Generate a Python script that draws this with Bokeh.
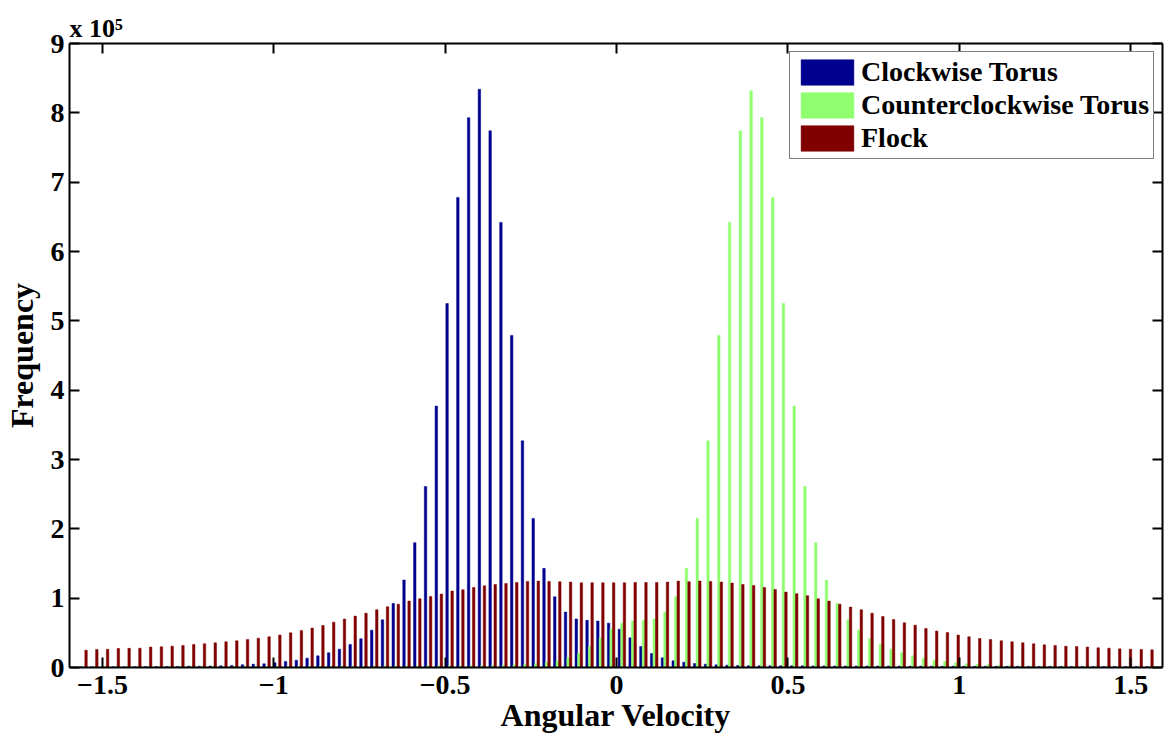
import numpy as np
from bokeh.plotting import figure
from bokeh.models import (Range1d, FixedTicker, LinearAxis, Legend,
                          LegendItem, ColumnDataSource, Title)
from bokeh.transform import dodge
from bokeh.embed import file_html
from bokeh.resources import INLINE

# ---------------- data (frequencies in units of 10^5) ----------------
n_bins = 100
bin_edges = np.linspace(-np.pi / 2, np.pi / 2, n_bins + 1)
bin_centers = (bin_edges[:-1] + bin_edges[1:]) / 2

clockwise = [
    0.010, 0.010, 0.011, 0.011, 0.012, 0.012, 0.013, 0.014, 0.015, 0.016,
    0.018, 0.019, 0.021, 0.025, 0.030, 0.040, 0.048, 0.053, 0.067, 0.087,
    0.106, 0.135, 0.168, 0.212, 0.265, 0.332, 0.414, 0.539, 0.688, 0.924,
    1.262, 1.800, 2.610, 3.770, 5.250, 6.780, 7.930, 8.340, 7.740, 6.420,
    4.790, 3.270, 2.150, 1.430, 1.020, 0.800, 0.700, 0.680, 0.670, 0.640,
    0.553, 0.428, 0.303, 0.202, 0.140, 0.096, 0.077, 0.058, 0.048, 0.038,
    0.034, 0.029, 0.027, 0.026, 0.025, 0.025, 0.024, 0.024, 0.023, 0.023,
    0.022, 0.022, 0.022, 0.021, 0.021, 0.021, 0.020, 0.020, 0.020, 0.019,
    0.019, 0.019, 0.018, 0.018, 0.018, 0.017, 0.017, 0.017, 0.016, 0.016,
    0.016, 0.015, 0.015, 0.015, 0.014, 0.014, 0.014, 0.013, 0.013, 0.013,
]

counterclockwise = [
    0.013, 0.013, 0.013, 0.014, 0.014, 0.014, 0.015, 0.015, 0.015, 0.016,
    0.016, 0.016, 0.017, 0.017, 0.017, 0.018, 0.018, 0.018, 0.019, 0.019,
    0.019, 0.020, 0.020, 0.020, 0.021, 0.021, 0.021, 0.022, 0.022, 0.022,
    0.023, 0.023, 0.024, 0.024, 0.025, 0.025, 0.026, 0.027, 0.029, 0.034,
    0.038, 0.048, 0.058, 0.077, 0.096, 0.140, 0.202, 0.303, 0.428, 0.553,
    0.640, 0.670, 0.680, 0.700, 0.800, 1.020, 1.430, 2.150, 3.270, 4.790,
    6.420, 7.740, 8.320, 7.930, 6.780, 5.250, 3.770, 2.610, 1.800, 1.262,
    0.924, 0.688, 0.539, 0.414, 0.332, 0.265, 0.212, 0.168, 0.135, 0.106,
    0.087, 0.067, 0.053, 0.048, 0.040, 0.030, 0.025, 0.021, 0.019, 0.018,
    0.016, 0.015, 0.014, 0.013, 0.012, 0.012, 0.011, 0.011, 0.010, 0.010,
]

flock = [
    0.250, 0.260, 0.262, 0.274, 0.276, 0.279, 0.294, 0.298, 0.308, 0.318,
    0.332, 0.342, 0.356, 0.371, 0.385, 0.404, 0.423, 0.443, 0.467, 0.500,
    0.534, 0.568, 0.606, 0.654, 0.698, 0.741, 0.784, 0.833, 0.876, 0.914,
    0.958, 0.991, 1.025, 1.059, 1.102, 1.121, 1.155, 1.179, 1.198, 1.213,
    1.227, 1.242, 1.246, 1.242, 1.237, 1.232, 1.222, 1.222, 1.222, 1.222,
    1.222, 1.227, 1.227, 1.227, 1.232, 1.246, 1.237, 1.246, 1.242, 1.232,
    1.218, 1.198, 1.184, 1.155, 1.126, 1.088, 1.064, 1.035, 0.991, 0.958,
    0.914, 0.871, 0.833, 0.784, 0.736, 0.693, 0.645, 0.611, 0.563, 0.525,
    0.505, 0.467, 0.443, 0.419, 0.404, 0.385, 0.371, 0.356, 0.342, 0.327,
    0.318, 0.308, 0.303, 0.294, 0.284, 0.279, 0.269, 0.265, 0.260, 0.255,
]

series_names = ["Clockwise Torus", "Counterclockwise Torus", "Flock"]
series_colors = ["#00008F", "#8FFF70", "#800000"]

x_ticks = [-1.5, -1.0, -0.5, 0.0, 0.5, 1.0, 1.5]
x_tick_labels = ["\u22121.5", "\u22121", "\u22120.5", "0", "0.5", "1", "1.5"]
y_ticks = [0, 1, 2, 3, 4, 5, 6, 7, 8, 9]
exponent_text = "x 10\u2075"

source = ColumnDataSource(dict(x=bin_centers, cw=clockwise,
                               ccw=counterclockwise, flock=flock))

# ---------------- figure ----------------
FONT = "Liberation Serif"
p = figure(frame_width=1093, frame_height=624,
           x_range=Range1d(-1.596, 1.593), y_range=Range1d(0, 9),
           output_backend="svg", toolbar_location=None,
           min_border_left=68, min_border_right=3,
           min_border_top=43, min_border_bottom=70,
           background_fill_color="white", border_fill_color="white")
p.outline_line_color = None
p.xgrid.visible = False
p.ygrid.visible = False

offset = 0.0074
bar_w = 0.0072
cols = ["cw", "ccw", "flock"]
offs = [-offset, 0.0, offset]
renderers = []
for col, off, color in zip(cols, offs, series_colors):
    r = p.vbar(x=dodge("x", off, range=p.x_range), top=col, bottom=0,
               width=bar_w, source=source, fill_color=color,
               line_color=color, line_width=0.5)
    renderers.append(r)

# ---------------- axes ----------------
def style_axis(ax, show_labels=True):
    ax.axis_line_width = 2
    ax.axis_line_color = "black"
    ax.major_tick_line_width = 2
    ax.major_tick_line_color = "black"
    ax.major_tick_in = 10
    ax.major_tick_out = 0
    ax.minor_tick_line_color = None
    ax.major_label_text_font = FONT
    ax.major_label_text_font_style = "bold"
    if show_labels:
        ax.major_label_text_color = "black"
        ax.major_label_text_font_size = "28px"
    else:
        ax.major_label_text_color = None
        ax.major_label_text_font_size = "1px"
        ax.major_label_standoff = 0

xax = p.xaxis[0]
xax.ticker = FixedTicker(ticks=x_ticks)
xax.major_label_overrides = {t: s for t, s in zip(x_ticks, x_tick_labels)}
style_axis(xax)
xax.major_label_standoff = 8
xax.axis_label = "Angular Velocity"
xax.axis_label_text_font = FONT
xax.axis_label_text_font_style = "bold"
xax.axis_label_text_font_size = "32px"
xax.axis_label_text_color = "black"
xax.axis_label_standoff = 0

yax = p.yaxis[0]
yax.ticker = FixedTicker(ticks=y_ticks)
style_axis(yax)
yax.major_label_standoff = 5
yax.axis_label = "Frequency"
yax.axis_label_text_font = FONT
yax.axis_label_text_font_style = "bold"
yax.axis_label_text_font_size = "32px"
yax.axis_label_text_color = "black"
yax.axis_label_standoff = 8

top_ax = LinearAxis(ticker=FixedTicker(ticks=x_ticks))
style_axis(top_ax, show_labels=False)
p.add_layout(top_ax, "above")
right_ax = LinearAxis(ticker=FixedTicker(ticks=y_ticks))
style_axis(right_ax, show_labels=False)
p.add_layout(right_ax, "right")

# exponent label "x 10^5" above the top-left corner
p.add_layout(Title(text=exponent_text, align="left", offset=0, standoff=2,
                   text_font=FONT, text_font_style="bold",
                   text_font_size="26px", text_color="black"), "above")

# ---------------- legend ----------------
legend = Legend(
    items=[LegendItem(label=n, renderers=[r]) for n, r in zip(series_names, renderers)],
    location=(720, 508), orientation="vertical",
    glyph_width=66, glyph_height=32, label_height=26,
    label_text_font=FONT, label_text_font_style="bold",
    label_text_font_size="28px", label_text_color="black", label_standoff=1,
    spacing=1, padding=4, margin=0,
    border_line_color="black", border_line_width=1,
    background_fill_color="white", background_fill_alpha=1.0,
)
p.add_layout(legend)

open("out.html", "w").write(file_html(p, INLINE))
